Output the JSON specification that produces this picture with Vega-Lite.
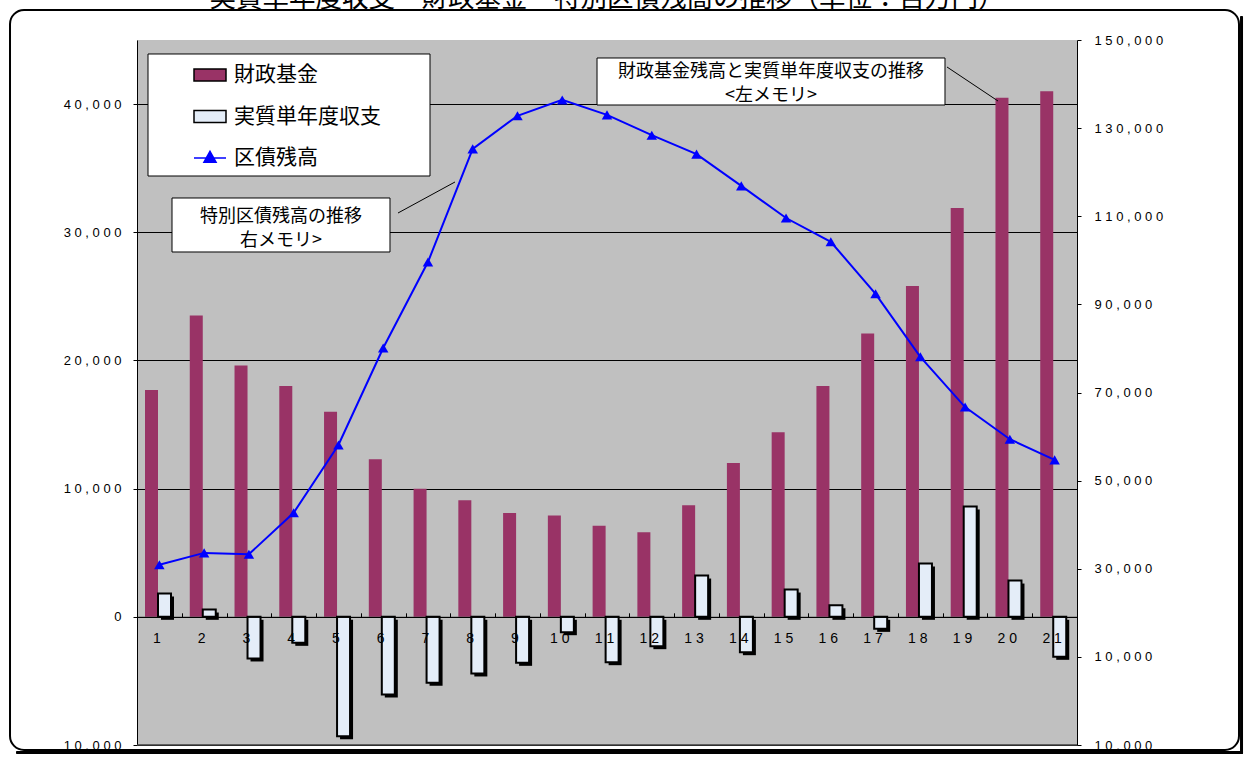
{
  "$schema": "https://vega.github.io/schema/vega-lite/v6.json",
  "width": 940,
  "height": 705,
  "autosize": "none",
  "padding": {"left": 137, "top": 40, "right": 168, "bottom": 18},
  "background": "#FFFFFF",
  "config": {"view": {"fill": "#C0C0C0", "stroke": null}},
  "title": {
    "text": "実質単年度収支・財政基金・特別区債残高の推移（単位：百万円）",
    "font": "Noto Sans CJK JP",
    "fontSize": 26.5,
    "fontWeight": "normal",
    "color": "#000000",
    "anchor": "middle",
    "frame": "group",
    "baseline": "alphabetic",
    "offset": 0,
    "dy": 24
  },
  "datasets": {
    "bars": [
      {"year": 1, "series": "財政基金", "value": 17700},
      {"year": 1, "series": "実質単年度収支", "value": 1820},
      {"year": 2, "series": "財政基金", "value": 23500},
      {"year": 2, "series": "実質単年度収支", "value": 570},
      {"year": 3, "series": "財政基金", "value": 19600},
      {"year": 3, "series": "実質単年度収支", "value": -3250},
      {"year": 4, "series": "財政基金", "value": 18000},
      {"year": 4, "series": "実質単年度収支", "value": -2030},
      {"year": 5, "series": "財政基金", "value": 16000},
      {"year": 5, "series": "実質単年度収支", "value": -9310},
      {"year": 6, "series": "財政基金", "value": 12300},
      {"year": 6, "series": "実質単年度収支", "value": -6060},
      {"year": 7, "series": "財政基金", "value": 10000},
      {"year": 7, "series": "実質単年度収支", "value": -5150},
      {"year": 8, "series": "財政基金", "value": 9100},
      {"year": 8, "series": "実質単年度収支", "value": -4420},
      {"year": 9, "series": "財政基金", "value": 8100},
      {"year": 9, "series": "実質単年度収支", "value": -3590},
      {"year": 10, "series": "財政基金", "value": 7900},
      {"year": 10, "series": "実質単年度収支", "value": -1200},
      {"year": 11, "series": "財政基金", "value": 7100},
      {"year": 11, "series": "実質単年度収支", "value": -3540},
      {"year": 12, "series": "財政基金", "value": 6600},
      {"year": 12, "series": "実質単年度収支", "value": -2290},
      {"year": 13, "series": "財政基金", "value": 8700},
      {"year": 13, "series": "実質単年度収支", "value": 3220},
      {"year": 14, "series": "財政基金", "value": 12000},
      {"year": 14, "series": "実質単年度収支", "value": -2760},
      {"year": 15, "series": "財政基金", "value": 14400},
      {"year": 15, "series": "実質単年度収支", "value": 2130},
      {"year": 16, "series": "財政基金", "value": 18000},
      {"year": 16, "series": "実質単年度収支", "value": 900},
      {"year": 17, "series": "財政基金", "value": 22100},
      {"year": 17, "series": "実質単年度収支", "value": -940},
      {"year": 18, "series": "財政基金", "value": 25800},
      {"year": 18, "series": "実質単年度収支", "value": 4160},
      {"year": 19, "series": "財政基金", "value": 31900},
      {"year": 19, "series": "実質単年度収支", "value": 8600},
      {"year": 20, "series": "財政基金", "value": 40500},
      {"year": 20, "series": "実質単年度収支", "value": 2830},
      {"year": 21, "series": "財政基金", "value": 41000},
      {"year": 21, "series": "実質単年度収支", "value": -3120}
    ],
    "debt": [
      {"year": 1, "series": "区債残高", "value": 30900},
      {"year": 2, "series": "区債残高", "value": 33600},
      {"year": 3, "series": "区債残高", "value": 33300},
      {"year": 4, "series": "区債残高", "value": 42700},
      {"year": 5, "series": "区債残高", "value": 58100},
      {"year": 6, "series": "区債残高", "value": 80100},
      {"year": 7, "series": "区債残高", "value": 99600},
      {"year": 8, "series": "区債残高", "value": 125300},
      {"year": 9, "series": "区債残高", "value": 132800},
      {"year": 10, "series": "区債残高", "value": 136400},
      {"year": 11, "series": "区債残高", "value": 133000},
      {"year": 12, "series": "区債残高", "value": 128400},
      {"year": 13, "series": "区債残高", "value": 124100},
      {"year": 14, "series": "区債残高", "value": 116900},
      {"year": 15, "series": "区債残高", "value": 109600},
      {"year": 16, "series": "区債残高", "value": 104200},
      {"year": 17, "series": "区債残高", "value": 92400},
      {"year": 18, "series": "区債残高", "value": 78100},
      {"year": 19, "series": "区債残高", "value": 66700},
      {"year": 20, "series": "区債残高", "value": 59400},
      {"year": 21, "series": "区債残高", "value": 54700}
    ]
  },
  "layer": [
    {
      "layer": [
        {
          "data": {"name": "bars"},
          "transform": [{"filter": "datum.series === '財政基金'"}],
          "mark": {"type": "bar", "strokeWidth": 0},
          "encoding": {
            "x": {
              "field": "year",
              "type": "ordinal",
              "scale": {"paddingInner": 0, "paddingOuter": 0},
              "axis": {
                "orient": "bottom",
                "offset": -128.18,
                "title": null,
                "zindex": 1,
                "grid": false,
                "domainColor": "#000000",
                "domainWidth": 1,
                "tickColor": "#000000",
                "tickSize": -4,
                "tickBand": "extent",
                "labelAngle": 0,
                "labelFont": "Liberation Sans",
                "labelFontSize": 14,
                "labelColor": "#000000",
                "labelPadding": 19,
                "labelOffset": -3,
                "labelExpr": "join(split(datum.label, ''), ' ')"
              }
            },
            "xOffset": {
              "field": "series",
              "scale": {"domain": ["財政基金", "実質単年度収支"], "range": [8, 34], "paddingInner": 0, "paddingOuter": 0}
            },
            "y": {
              "field": "value",
              "type": "quantitative",
              "scale": {"domain": [-10000, 45000], "nice": false, "zero": false},
              "axis": {
                "orient": "left",
                "values": [-10000, 0, 10000, 20000, 30000, 40000],
                "title": null,
                "zindex": 0,
                "grid": true,
                "gridColor": "#000000",
                "gridWidth": 1,
                "domainColor": "#000000",
                "tickColor": "#000000",
                "tickSize": 4,
                "labelFont": "Liberation Sans",
                "labelFontSize": 13,
                "labelColor": "#000000",
                "labelPadding": 12,
                "labelOverlap": false,
                "labelFlush": false,
                "labelBound": false,
                "labelExpr": "join(split(format(abs(datum.value), ','), ''), ' ')"
              }
            },
            "color": {
              "field": "series",
              "type": "nominal",
              "scale": {
                "domain": ["財政基金", "実質単年度収支", "区債残高"],
                "range": ["#993366", "#E4EDF8", "#0000FF"]
              },
              "legend": {
                "orient": "none",
                "legendX": 3,
                "legendY": 10,
                "title": null,
                "fillColor": null,
                "strokeColor": null,
                "padding": 8,
                "rowPadding": 14.5,
                "symbolOffset": 45,
                "symbolSize": 1024,
                "symbolStrokeWidth": 1.5,
                "labelOffset": 7,
                "labelFont": "Noto Sans CJK JP",
                "labelFontSize": 21,
                "labelColor": "#000000",
                "labelLimit": 400,
                "encode": {
                  "symbols": {
                    "update": {
                      "shape": {"signal": "datum.value === '区債残高' ? 'M-1,0H1M0,-0.42L0.38,0.26H-0.38Z' : 'M-1,-0.375H1V0.375H-1Z'"},
                      "size": {"value": 1024},
                      "opacity": {"value": 1},
                      "fillOpacity": {"value": 1}
                    }
                  }
                }
              }
            },
            "stroke": {
              "field": "series",
              "type": "nominal",
              "scale": {
                "domain": ["財政基金", "実質単年度収支", "区債残高"],
                "range": ["#000000", "#000000", "#0000FF"]
              }
            }
          }
        },
        {
          "data": {"name": "bars"},
          "transform": [{"filter": "datum.series === '実質単年度収支'"}],
          "mark": {"type": "bar", "fill": "#000000"},
          "encoding": {
            "x": {"field": "year", "type": "ordinal"},
            "xOffset": {
              "field": "series",
              "scale": {"domain": ["財政基金", "実質単年度収支"], "range": [11, 37], "paddingInner": 0, "paddingOuter": 0}
            },
            "y": {
              "field": "value",
              "type": "quantitative",
              "scale": {"domain": [-9766, 45234], "nice": false, "zero": false},
              "axis": null
            }
          }
        },
        {
          "data": {"name": "bars"},
          "transform": [{"filter": "datum.series === '実質単年度収支'"}],
          "mark": {"type": "bar", "strokeWidth": 2},
          "encoding": {
            "x": {"field": "year", "type": "ordinal"},
            "xOffset": {
              "field": "series",
              "scale": {"domain": ["財政基金", "実質単年度収支"], "range": [8, 34], "paddingInner": 0, "paddingOuter": 0}
            },
            "y": {
              "field": "value",
              "type": "quantitative",
              "scale": {"domain": [-10000, 45000], "nice": false, "zero": false},
              "axis": null
            },
            "color": {"field": "series", "type": "nominal"},
            "stroke": {"field": "series", "type": "nominal"}
          }
        },
        {
          "data": {"values": [{}]},
          "mark": {"type": "rule", "color": "#404040", "strokeWidth": 1.5},
          "encoding": {
            "y": {
              "datum": -10000,
              "type": "quantitative",
              "scale": {"domain": [-10000, 45000], "nice": false, "zero": false},
              "axis": null
            }
          }
        },
        {
          "data": {"name": "debt"},
          "mark": {"type": "line", "strokeWidth": 2},
          "encoding": {
            "x": {"field": "year", "type": "ordinal"},
            "y": {
              "field": "value",
              "type": "quantitative",
              "scale": {"domain": [-10000, 150000], "nice": false, "zero": false},
              "axis": {
                "orient": "right",
                "values": [-10000, 10000, 30000, 50000, 70000, 90000, 110000, 130000, 150000],
                "title": null,
                "zindex": 0,
                "grid": false,
                "domainColor": "#000000",
                "tickColor": "#000000",
                "tickSize": 4,
                "labelFont": "Liberation Sans",
                "labelFontSize": 13,
                "labelColor": "#000000",
                "labelPadding": 13,
                "labelOverlap": false,
                "labelFlush": false,
                "labelBound": false,
                "labelExpr": "(datum.value < 0 ? '\u00a0\u00a0\u00a0\u00a0\u00a0' : '') + join(split(format(abs(datum.value), ','), ''), ' ')"
              }
            },
            "color": {"field": "series", "type": "nominal"},
            "stroke": {"field": "series", "type": "nominal"}
          }
        },
        {
          "data": {"name": "debt"},
          "mark": {"type": "point", "filled": true, "shape": "triangle-up", "size": 110, "opacity": 1, "strokeWidth": 0},
          "encoding": {
            "x": {"field": "year", "type": "ordinal"},
            "y": {
              "field": "value",
              "type": "quantitative",
              "scale": {"domain": [-10000, 150000], "nice": false, "zero": false},
              "axis": null
            },
            "color": {"field": "series", "type": "nominal"}
          }
        }
      ],
      "resolve": {"scale": {"y": "independent", "xOffset": "independent"}}
    },
    {
      "data": {"values": [{}]},
      "layer": [
        {
          "mark": {"type": "rect", "fill": "transparent", "stroke": "#000000", "strokeWidth": 2, "cornerRadius": 14},
          "encoding": {
            "x": {"datum": -2.337, "type": "quantitative", "scale": {"domain": [0.5, 21.5], "nice": false, "zero": false}, "axis": null},
            "x2": {"datum": 25.119},
            "y": {"datum": 47340, "type": "quantitative", "scale": {"domain": [-10000, 45000], "nice": false, "zero": false}, "axis": null},
            "y2": {"datum": -10390}
          }
        },
        {
          "mark": {"type": "rect", "fill": "#000000", "cornerRadius": 1},
          "encoding": {
            "x": {"datum": 25.142, "type": "quantitative"},
            "x2": {"datum": 25.209},
            "y": {"datum": 46872, "type": "quantitative"},
            "y2": {"datum": -10702}
          }
        },
        {
          "mark": {"type": "rect", "fill": "#000000", "cornerRadius": 1},
          "encoding": {
            "x": {"datum": -2.203, "type": "quantitative"},
            "x2": {"datum": 25.209},
            "y": {"datum": -10468, "type": "quantitative"},
            "y2": {"datum": -10702}
          }
        },
        {
          "mark": {"type": "rect", "fill": "#FFFFFF", "stroke": "#000000", "strokeWidth": 1},
          "encoding": {
            "x": {"datum": 0.746, "type": "quantitative"},
            "x2": {"datum": 7.046},
            "y": {"datum": 43908, "type": "quantitative"},
            "y2": {"datum": 34390}
          }
        },
        {
          "mark": {"type": "rect", "fill": "#FFFFFF", "stroke": "#000000", "strokeWidth": 1},
          "encoding": {
            "x": {"datum": 10.777, "type": "quantitative"},
            "x2": {"datum": 18.551},
            "y": {"datum": 43596, "type": "quantitative"},
            "y2": {"datum": 39929}
          }
        },
        {
          "mark": {"type": "rect", "fill": "#FFFFFF", "stroke": "#000000", "strokeWidth": 1},
          "encoding": {
            "x": {"datum": 1.282, "type": "quantitative"},
            "x2": {"datum": 6.152},
            "y": {"datum": 32674, "type": "quantitative"},
            "y2": {"datum": 28461}
          }
        },
        {
          "mark": {"type": "rule", "color": "#000000", "strokeWidth": 1},
          "encoding": {
            "x": {"datum": 18.596, "type": "quantitative"},
            "x2": {"datum": 19.735},
            "y": {"datum": 42894, "type": "quantitative"},
            "y2": {"datum": 40241}
          }
        },
        {
          "mark": {"type": "rule", "color": "#000000", "strokeWidth": 1},
          "encoding": {
            "x": {"datum": 6.331, "type": "quantitative"},
            "x2": {"datum": 7.604},
            "y": {"datum": 31503, "type": "quantitative"},
            "y2": {"datum": 33922}
          }
        },
        {
          "mark": {"type": "text", "font": "Noto Sans CJK JP", "fontSize": 18, "color": "#000000", "align": "center", "baseline": "middle", "lineBreak": "\n", "lineHeight": 24},
          "encoding": {
            "x": {"datum": 14.664, "type": "quantitative"},
            "y": {"datum": 42465, "type": "quantitative"},
            "text": {"value": "財政基金残高と実質単年度収支の推移\n<左メモリ>"}
          }
        },
        {
          "mark": {"type": "text", "font": "Noto Sans CJK JP", "fontSize": 18, "color": "#000000", "align": "center", "baseline": "middle", "lineBreak": "\n", "lineHeight": 24},
          "encoding": {
            "x": {"datum": 3.717, "type": "quantitative"},
            "y": {"datum": 31191, "type": "quantitative"},
            "text": {"value": "特別区債残高の推移\n　右メモリ>"}
          }
        }
      ]
    }
  ],
  "resolve": {"scale": {"x": "independent", "y": "independent"}}
}
